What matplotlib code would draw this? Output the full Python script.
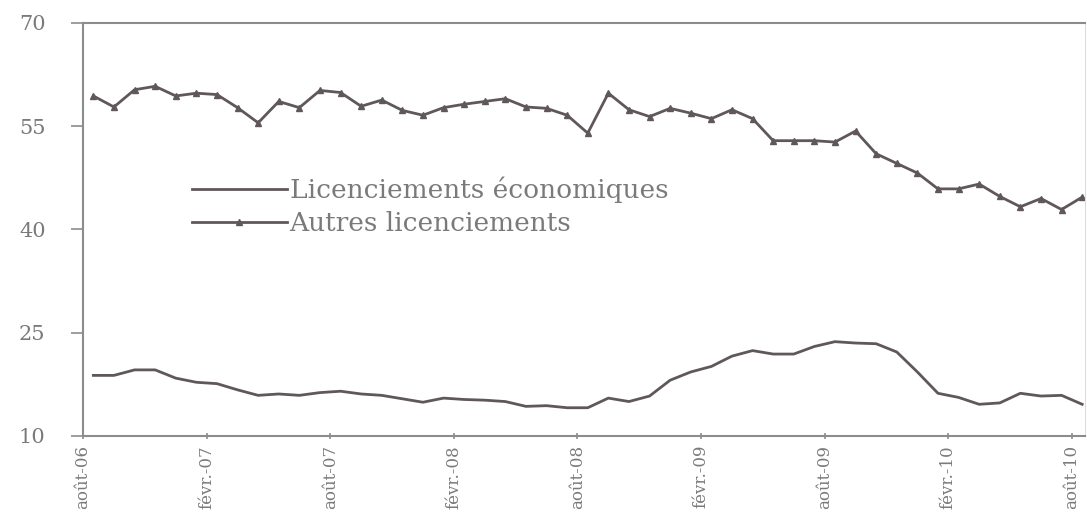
import matplotlib.pyplot as plt
import numpy as np

# monthly values, août-06 .. août-10 (49 months)
autres = [59.4, 57.8, 60.3, 60.8, 59.4, 59.8, 59.6, 57.7, 55.5, 58.6,
          57.7, 60.2, 59.9, 57.9, 58.8, 57.3, 56.6, 57.7, 58.2, 58.6,
          59.0, 57.8, 57.6, 56.6, 54.0, 59.8, 57.4, 56.4, 57.6, 56.9,
          56.1, 57.4, 56.1, 52.9, 52.9, 52.9, 52.7, 54.3, 51.0, 49.6,
          48.2, 45.9, 45.9, 46.6, 44.8, 43.3, 44.5, 42.9, 44.7]
economiques = [18.8, 18.8, 19.6, 19.6, 18.4, 17.8, 17.6, 16.7, 15.9, 16.1,
               15.9, 16.3, 16.5, 16.1, 15.9, 15.4, 14.9, 15.5, 15.3, 15.2,
               15.0, 14.3, 14.4, 14.1, 14.1, 15.5, 15.0, 15.8, 18.1, 19.3,
               20.1, 21.6, 22.4, 21.9, 21.9, 23.0, 23.7, 23.5, 23.4, 22.2,
               19.3, 16.2, 15.6, 14.6, 14.8, 16.2, 15.8, 15.9, 14.6]
tick_labels = ['août-06', 'févr.-07', 'août-07', 'févr.-08', 'août-08',
               'févr.-09', 'août-09', 'févr.-10', 'août-10']
yticks = [10, 25, 40, 55, 70]

line_col = '#605759'
axis_col = '#8c8c8c'
text_col = '#7a7a7a'
plt.rcParams['font.family'] = ['DejaVu Serif']

fig = plt.figure(figsize=(10.87, 5.19), dpi=100)
ax = fig.add_axes([0.0764, 0.16, 0.922, 0.7957])

x = np.arange(len(autres)) + 0.5
ax.plot(x, economiques, color=line_col, lw=2.0, label='Licenciements économiques')
ax.plot(x, autres, color=line_col, lw=2.0, marker='^', ms=4,
        label='Autres licenciements')

ax.set_xlim(0, 48.65)
ax.set_ylim(10, 70)
ax.set_yticks(yticks)
ax.set_xticks(np.arange(0, 49, 6))
ax.set_xticklabels(tick_labels, rotation=90, va='top')

for s in ['left', 'bottom', 'top']:
    ax.spines[s].set_color(axis_col)
    ax.spines[s].set_linewidth(1.5)
ax.spines['right'].set_color('#dddddd')
ax.tick_params(axis='y', colors=axis_col, labelcolor=text_col, labelsize=15,
               length=9, width=1.2, pad=18)
ax.tick_params(axis='x', colors=axis_col, labelcolor=text_col, labelsize=12,
               length=5, width=1.2, direction='inout', pad=4)

ax.legend(loc='upper left', bbox_to_anchor=(0.085, 0.685), frameon=False,
          fontsize=19, handlelength=3.6, labelspacing=0.3, handletextpad=0.1,
          labelcolor=text_col)

fig.savefig('out.png', dpi=100)
